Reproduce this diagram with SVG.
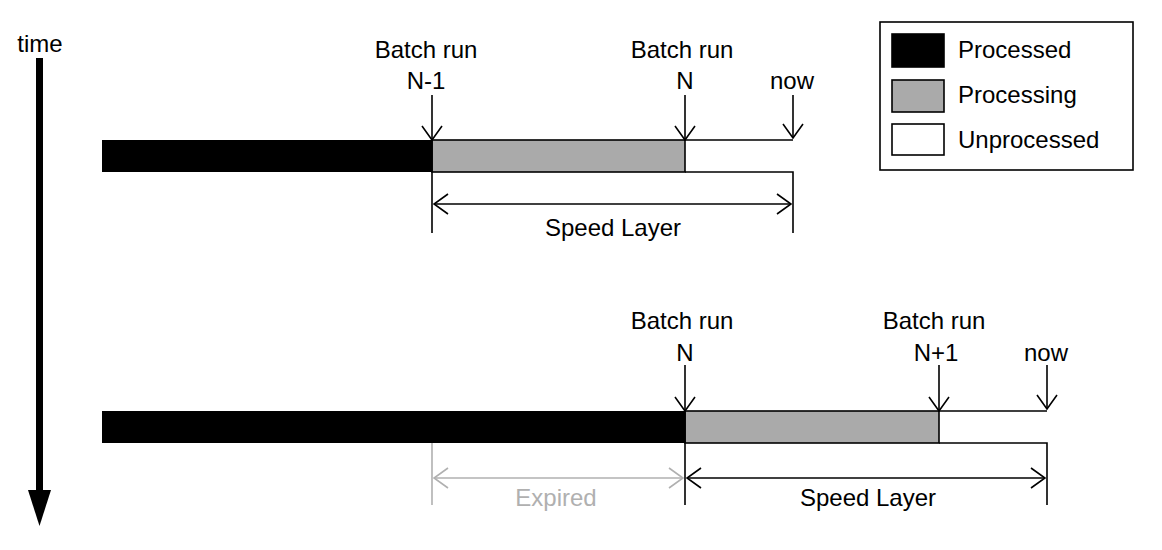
<svg xmlns="http://www.w3.org/2000/svg" width="1162" height="550" viewBox="0 0 1162 550">
<defs>
<style>
text{font-family:"Liberation Sans",Arial,sans-serif;font-size:24px;fill:#000}
.c{text-anchor:middle}
.ln{stroke:#000;stroke-width:1.6;fill:none}
.gl{stroke:#b0b0b0;stroke-width:1.6;fill:none}
.blk{fill:#000}
.gry{fill:#aaaaaa;stroke:#000;stroke-width:1.6}
</style>
<marker id="v" viewBox="0 0 16 24" refX="15" refY="12" markerWidth="16" markerHeight="24" markerUnits="userSpaceOnUse" orient="auto-start-reverse">
<path d="M1,2 L15,12 L1,22" fill="none" stroke="#000" stroke-width="1.6"/>
</marker>
<marker id="vg" viewBox="0 0 16 24" refX="15" refY="12" markerWidth="16" markerHeight="24" markerUnits="userSpaceOnUse" orient="auto-start-reverse">
<path d="M1,2 L15,12 L1,22" fill="none" stroke="#b0b0b0" stroke-width="1.6"/>
</marker>
</defs>
<rect width="1162" height="550" fill="#fff"/>

<g id="time-axis">
<text x="40" y="52" class="c">time</text>
<rect x="36" y="58" width="7" height="435" class="blk"/>
<polygon points="28,490 51,490 39.5,526" class="blk"/>
</g>

<g id="legend">
<rect x="880" y="22" width="253" height="148" fill="#fff" stroke="#000" stroke-width="1.6"/>
<rect x="892" y="34" width="52" height="33" class="blk" stroke="#000" stroke-width="1.6"/>
<rect x="892" y="80" width="52" height="32" class="gry"/>
<rect x="892" y="124" width="52" height="31" fill="#fff" stroke="#000" stroke-width="1.6"/>
<text x="958" y="58">Processed</text>
<text x="958" y="103">Processing</text>
<text x="958" y="148">Unprocessed</text>
</g>

<g id="timeline-top">
<rect x="102" y="140" width="330" height="32" class="blk"/>
<rect x="432" y="140" width="253" height="32" class="gry"/>
<path d="M685,140 H793 M685,172 H793 V233 M432,140 V233" class="ln"/>
<text x="426" y="58" class="c">Batch run</text>
<text x="426" y="89" class="c">N-1</text>
<text x="682" y="58" class="c">Batch run</text>
<text x="685" y="89" class="c">N</text>
<text x="792" y="89" class="c">now</text>
<text x="613" y="236" class="c">Speed Layer</text>
</g>

<g id="timeline-bottom">
<rect x="102" y="411" width="583" height="32" class="blk"/>
<rect x="685" y="411" width="254" height="32" class="gry"/>
<path d="M939,411 H1047 M939,443 H1047 V505 M685,411 V505" class="ln"/>
<path d="M432,443 V505" class="gl"/>
<text x="682" y="329" class="c">Batch run</text>
<text x="685" y="361" class="c">N</text>
<text x="934" y="329" class="c">Batch run</text>
<text x="936" y="361" class="c">N+1</text>
<text x="1046" y="361" class="c">now</text>
<text x="556" y="506" class="c" style="fill:#b0b0b0">Expired</text>
<text x="868" y="506" class="c">Speed Layer</text>
</g>

<g id="connectors">
<path d="M432,95 V140" class="ln" marker-end="url(#v)"/>
<path d="M685,95 V140" class="ln" marker-end="url(#v)"/>
<path d="M793,95 V138" class="ln" marker-end="url(#v)"/>
<path d="M434,204 H791" class="ln" marker-start="url(#v)" marker-end="url(#v)"/>
<path d="M685,365 V411" class="ln" marker-end="url(#v)"/>
<path d="M939,365 V411" class="ln" marker-end="url(#v)"/>
<path d="M1047,365 V409" class="ln" marker-end="url(#v)"/>
<path d="M434,478 H683" class="gl" marker-start="url(#vg)" marker-end="url(#vg)"/>
<path d="M687,478 H1045" class="ln" marker-start="url(#v)" marker-end="url(#v)"/>
</g>
</svg>
